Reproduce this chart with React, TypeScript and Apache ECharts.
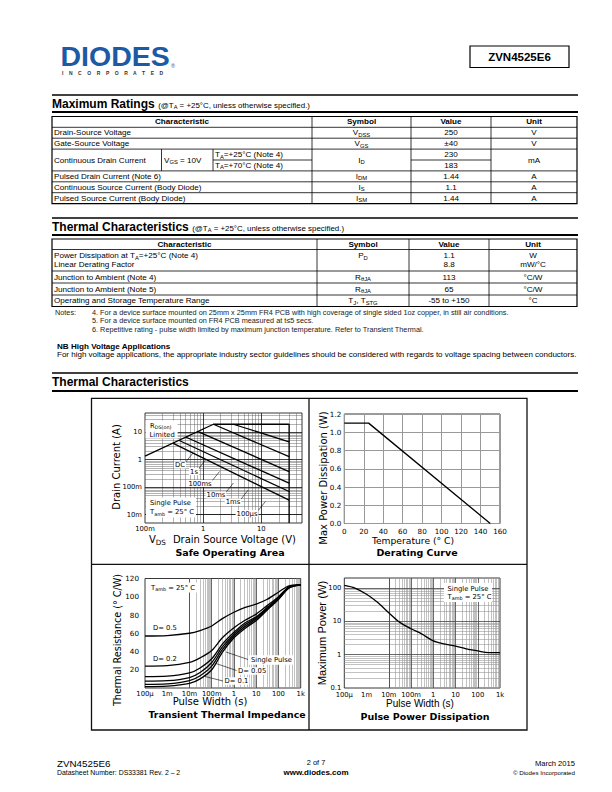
import React, { useEffect, useRef } from 'react';
import * as echarts from 'echarts';

const LS = '"Liberation Sans", Arial, Helvetica, sans-serif';
const DV = '"DejaVu Sans", Verdana, sans-serif';

// ---------------- page text content ----------------
const partNumber = 'ZVN4525E6';
const logoWord = 'DIODES';
const logoSub = 'I    N    C    O    R    P    O    R    A    T    E    D';
const condSubtitle = '(@T_{A} = +25°C, unless otherwise specified.)';
const tableHeader = ['Characteristic', 'Symbol', 'Value', 'Unit'];

const mrChars = ['Drain-Source Voltage', 'Gate-Source Voltage', 'Continuous Drain Current', 'Pulsed Drain Current (Note 6)', 'Continuous Source Current (Body Diode)', 'Pulsed Source Current (Body Diode)'];
const mrSymbols = ['V_{DSS}', 'V_{GS}', 'I_{D}', 'I_{DM}', 'I_{S}', 'I_{SM}'];
const mrValues = [['250'], ['±40'], ['230', '183'], ['1.44'], ['1.1'], ['1.44']];
const mrUnits = ['V', 'V', 'mA', 'A', 'A', 'A'];
const mrCondition = 'V_{GS} = 10V';
const mrTemps = ['T_{A}=+25°C (Note 4)', 'T_{A}=+70°C (Note 4)'];

const tcChars = [['Power Dissipation at T_{A}=+25°C (Note 4)', 'Linear Derating Factor'], ['Junction to Ambient (Note 4)'], ['Junction to Ambient (Note 5)'], ['Operating and Storage Temperature Range']];
const tcSymbols = ['P_{D}', 'R_{θJA}', 'R_{θJA}', 'T_{J}, T_{STG}'];
const tcValues = [['1.1', '8.8'], ['113'], ['65'], ['-55 to +150']];
const tcUnits = [['W', 'mW/°C'], ['°C/W'], ['°C/W'], ['°C']];

const notes = [
  '4. For a device surface mounted on 25mm x 25mm FR4 PCB with high coverage of single sided 1oz copper, in still air conditions.',
  '5. For a device surface mounted on FR4 PCB measured at t≤5 secs.',
  '6. Repetitive rating - pulse width limited by maximum junction temperature. Refer to Transient Thermal.',
];
const nbTitle = 'NB High Voltage Applications';
const nbText = 'For high voltage applications, the appropriate industry sector guidelines should be considered with regards to voltage spacing between conductors.';

// ---------------- chart data ----------------
// Safe operating area [VDS (V), ID (A)]
const soaEnvelope = [[0.1, 1.35], [1.5, 19.5], [30, 19.5], [30, 0.005]];
const soaDC = [[0.3, 4.0], [30, 0.034]];
const soa1s = [[0.38, 5.1], [30, 0.07]];
const soa100ms = [[0.5, 6.7], [30, 0.14]];
const soa10ms = [[0.8, 10.7], [30, 0.37]];
const soa1ms = [[1.5, 19.5], [30, 1.3]];
const soa100us = [[3.3, 19.5], [30, 4.5]];
const soaLabels = ['DC', '1s', '100ms', '10ms', '1ms', '100µs'];

// Derating curve [T (°C), P (W)]
const derating = [[0, 1.1], [25, 1.1], [150, 0]];

// Transient thermal impedance [t (s), Rth (°C/W)]
const tPulse = [1e-4, 1e-3, 1e-2, 3e-2, 0.1, 0.3, 1, 3, 10, 30, 100, 300, 1000];
const zthD05 = [57, 57.5, 60, 63, 68, 76, 83, 88, 92, 97, 105, 112, 113];
const zthD02 = [24, 24.5, 28, 33, 41, 55, 66, 74, 81, 90, 100, 111, 113];
const zthD01 = [12.5, 13, 16.5, 22, 32, 48, 61, 71, 78, 88, 99, 110.5, 113];
const zthD005 = [7.5, 8, 11.5, 17, 28, 45, 59, 69, 77, 87, 98, 110, 113];
const zthD002 = [4, 4.5, 8, 13.5, 24, 42, 57, 67, 75.5, 86, 97.5, 110, 113];
const zthSingle = [1.5, 2, 5, 10, 20, 39, 55, 65, 74, 85, 97, 109.5, 113];

// Pulse power dissipation [t (s), P (W)]
const ppTime = [1e-4, 3e-4, 1e-3, 3e-3, 1e-2, 3e-2, 0.1, 0.3, 1, 3, 10, 30, 100, 300, 1000];
const ppPower = [120, 100, 65, 38, 18, 9.5, 6, 4.2, 2.6, 2.1, 1.8, 1.5, 1.3, 1.15, 1.15];

// tick label names
const soaXTicks: Record<number, string> = { [-1]: '100m', 0: '1', 1: '10' };
const soaYTicks: Record<number, string> = { [-2]: '10m', [-1]: '100m', 0: '1', 1: '10' };
const timeTicks: Record<number, string> = { [-4]: '100µ', [-3]: '1m', [-2]: '10m', [-1]: '100m', 0: '1', 1: '10', 2: '100', 3: '1k' };
const ppYTicks: Record<number, string> = { [-1]: '0.1', 0: '1', 1: '10', 2: '100' };

// ---------------- helpers ----------------
function toRich(s: string) {
  const re = /_\{([^}]*)\}/g;
  let out = '';
  let last = 0;
  let m: RegExpExecArray | null;
  while ((m = re.exec(s))) {
    if (m.index > last) out += `{n|${s.slice(last, m.index)}}`;
    out += `{s|${m[1]}}`;
    last = m.index + m[0].length;
  }
  if (last < s.length) out += `{n|${s.slice(last)}}`;
  return out;
}

function tx(x: number, y: number, s: string, size: number, o: any = {}) {
  const family = o.family || LS;
  const weight = o.bold ? 'bold' : 'normal';
  const fill = o.color || '#000';
  const align = o.align || 'left';
  const va = o.va || 'middle';
  const lh = o.lh ?? Math.round(size * 1.1 * 10) / 10;
  const style: any = { fill, align, verticalAlign: va, textAlign: align, textVerticalAlign: va, fontFamily: family, fontSize: size, fontWeight: weight, lineHeight: lh };
  if (s.includes('_{')) {
    style.text = toRich(s);
    style.rich = {
      n: { fontFamily: family, fontSize: size, fontWeight: weight, color: fill, fill, lineHeight: Math.round(size * 1.2) },
      s: { fontFamily: family, fontSize: size * 0.72, fontWeight: weight, color: fill, fill, lineHeight: 3, verticalAlign: 'bottom' },
    };
  } else style.text = s;
  if (o.bg) {
    style.backgroundColor = o.bg;
    style.padding = o.pad ?? [0, 1, 0, 1];
  }
  const el: any = { type: 'text', x, y, style, z: o.z ?? 100, silent: true };
  if (o.rot) el.rotation = o.rot;
  return el;
}

const ln = (x1: number, y1: number, x2: number, y2: number, w = 1, c = '#000', z = 90) => ({
  type: 'line', shape: { x1, y1, x2, y2 }, style: { stroke: c, lineWidth: w }, silent: true, z,
});
const rc = (x: number, y: number, w: number, h: number, o: any = {}) => ({
  type: 'rect', shape: { x, y, width: w, height: h }, style: { fill: o.fill ?? 'none', stroke: o.stroke ?? null, lineWidth: o.lw ?? 1 }, silent: true, z: o.z ?? 90,
});

function measure(text: string, font: string) {
  const c = document.createElement('canvas').getContext('2d');
  if (!c) return text.length * 6;
  c.font = font;
  return c.measureText(text).width;
}

function section(g: any[], yTop: number, yText: number, yBot: number, title: string, withSub = true) {
  g.push(ln(52, yTop, 578, yTop, 1.3));
  g.push(ln(52, yBot, 578, yBot, 2));
  g.push(tx(52, yText, title, 12, { bold: true }));
  if (withSub) {
    const w = measure(title, `bold 12px ${LS}`);
    g.push(tx(52 + w + 3.5, yText + 1.2, condSubtitle, 7.9));
  }
}

const decadeFmt = (map: Record<number, string>) => (v: number) => {
  const e = Math.log10(v);
  const r = Math.round(e);
  return Math.abs(e - r) < 1e-6 && map[r] !== undefined ? map[r] : '';
};

function minorLogValues(lo: number, hi: number) {
  const out: number[] = [];
  for (let d = Math.floor(Math.log10(lo)); d <= Math.ceil(Math.log10(hi)); d++) {
    for (let k = 2; k <= 9; k++) {
      const v = k * Math.pow(10, d);
      if (v > lo * 1.0001 && v < hi * 0.9999) out.push(+v.toPrecision(3));
    }
  }
  return out;
}
function majorLogValues(lo: number, hi: number) {
  const out: number[] = [];
  for (let d = Math.ceil(Math.log10(lo)); d <= Math.floor(Math.log10(hi)); d++) {
    const v = Math.pow(10, d);
    if (v > lo * 1.0001 && v < hi * 0.9999) out.push(+v.toPrecision(3));
  }
  return out;
}

function gridLines(xs: number[], ys: number[], color: string, width: number) {
  return [
    ...xs.map((v) => ({ xAxis: v, lineStyle: { color, width, type: 'solid' } })),
    ...ys.map((v) => ({ yAxis: v, lineStyle: { color, width, type: 'solid' } })),
  ];
}

function markGrid(data: any[]) {
  return {
    silent: true, symbol: ['none', 'none'], z: 1, animation: false,
    label: { show: false }, emphasis: { disabled: true }, data,
  };
}

const curve = (name: string, x: number, y: number, data: any[], extra: any = {}) => ({
  type: 'line', name, xAxisIndex: x, yAxisIndex: y, data, symbol: 'none', silent: true, z: 3,
  lineStyle: { color: '#000', width: 1.3 }, ...extra,
});

function buildOption() {
  const g: any[] = [];

  // ---------- header ----------
  g.push(tx(60.5, 55.6, logoWord, 28.5, { bold: true, color: '#1d5aa5', lh: 20 }));
  g.push(tx(171, 65.5, '®', 5.5, { color: '#1d5aa5', lh: 5 }));
  g.push(tx(62, 73.4, logoSub, 5, { bold: true, color: '#333', lh: 4.5 }));
  g.push(rc(470, 46, 99, 21.5, { stroke: '#000', lw: 1.2 }));
  g.push(tx(519.5, 57, partNumber, 11.5, { bold: true, align: 'center' }));

  // ---------- Maximum Ratings ----------
  section(g, 95, 104, 112, 'Maximum Ratings');
  const c1 = [52, 312, 411, 491, 577];
  const r1 = [116.5, 127.3, 138.2, 149.1, 160, 170.9, 181.8, 192.7, 203.6];
  const fs = 8.1;
  g.push(rc(c1[0], r1[0], c1[4] - c1[0], r1[8] - r1[0], { stroke: '#000', lw: 1.2 }));
  [1, 2, 3, 5, 6, 7].forEach((i) => g.push(ln(c1[0], r1[i], c1[4], r1[i], 0.8)));
  g.push(ln(213, r1[4], c1[1], r1[4], 0.8));
  g.push(ln(c1[2], r1[4], c1[3], r1[4], 0.8));
  [1, 2, 3].forEach((i) => g.push(ln(c1[i], r1[0], c1[i], r1[8], 0.8)));
  g.push(ln(161.5, r1[3], 161.5, r1[5], 0.8));
  g.push(ln(213, r1[3], 213, r1[5], 0.8));
  tableHeader.forEach((h, i) => g.push(tx((c1[i] + c1[i + 1]) / 2, (r1[0] + r1[1]) / 2, h, fs, { bold: true, align: 'center' })));
  const mrRowIdx = [[1], [2], [3, 4], [5], [6], [7]];
  mrChars.forEach((ch, k) => {
    const top = r1[mrRowIdx[k][0]];
    const bot = r1[mrRowIdx[k][mrRowIdx[k].length - 1] + 1];
    const cy = (top + bot) / 2;
    g.push(tx(54, cy, ch, fs));
    g.push(tx((c1[1] + c1[2]) / 2, cy, mrSymbols[k], fs, { align: 'center' }));
    g.push(tx((c1[3] + c1[4]) / 2, cy, mrUnits[k], fs, { align: 'center' }));
    mrValues[k].forEach((v, j) => {
      const rr = mrRowIdx[k][j];
      g.push(tx((c1[2] + c1[3]) / 2, (r1[rr] + r1[rr + 1]) / 2, v, fs, { align: 'center' }));
    });
  });
  g.push(tx(164, (r1[3] + r1[5]) / 2, mrCondition, fs));
  mrTemps.forEach((t, j) => g.push(tx(215, (r1[3 + j] + r1[4 + j]) / 2, t, fs)));

  // ---------- Thermal Characteristics table ----------
  section(g, 218, 227, 235, 'Thermal Characteristics');
  const c2 = [52, 317, 409, 489, 577];
  const r2 = [239, 249.5, 271, 283, 295, 306.5];
  g.push(rc(c2[0], r2[0], c2[4] - c2[0], r2[5] - r2[0], { stroke: '#000', lw: 1.2 }));
  [1, 2, 3, 4].forEach((i) => g.push(ln(c2[0], r2[i], c2[4], r2[i], 0.8)));
  [1, 2, 3].forEach((i) => g.push(ln(c2[i], r2[0], c2[i], r2[5], 0.8)));
  tableHeader.forEach((h, i) => g.push(tx((c2[i] + c2[i + 1]) / 2, (r2[0] + r2[1]) / 2, h, fs, { bold: true, align: 'center' })));
  tcChars.forEach((lines, k) => {
    const top = r2[k + 1];
    const bot = r2[k + 2];
    const cy = (top + bot) / 2;
    const n = lines.length;
    const ys = n === 1 ? [cy] : [cy - 4.5, cy + 4.5];
    const lh = n === 1 ? undefined : 8.5;
    lines.forEach((t, j) => g.push(tx(54, ys[j], t, fs, { lh })));
    g.push(tx((c2[1] + c2[2]) / 2, ys[0], tcSymbols[k], fs, { align: 'center', lh }));
    tcValues[k].forEach((v, j) => g.push(tx((c2[2] + c2[3]) / 2, ys[j], v, fs, { align: 'center', lh })));
    tcUnits[k].forEach((v, j) => g.push(tx((c2[3] + c2[4]) / 2, ys[j], v, fs, { align: 'center', lh })));
  });

  // notes
  g.push(tx(55, 312, 'Notes:', 7.3, { color: '#222', lh: 7.5 }));
  notes.forEach((t, i) => g.push(tx(92, 312 + i * 8.6, t, 7.3, { color: '#222', lh: 7.5 })));
  g.push(tx(57, 346, nbTitle, 8.1, { bold: true, lh: 8 }));
  g.push(tx(57, 354.5, nbText, 8.0, { lh: 8 }));

  // ---------- Thermal Characteristics charts ----------
  section(g, 373, 382, 391, 'Thermal Characteristics', false);

  // chart frame
  g.push(rc(91.5, 398.3, 435.5, 331.7, { stroke: '#111', lw: 1.3 }));
  g.push(ln(309, 398.3, 309, 730, 1.3, '#111'));
  g.push(ln(91.5, 564.3, 527, 564.3, 1.3, '#111'));

  const up = Math.PI / 2;
  // SOA texts
  g.push(tx(116, 467, 'Drain Current (A)', 10, { family: DV, align: 'center', rot: up }));
  g.push(tx(149, 539.5, 'V_{DS}', 10, { family: DV }));
  g.push(tx(296, 539, 'Drain Source Voltage (V)', 10, { family: DV, align: 'right', lh: 8 }));
  g.push(tx(230, 552, 'Safe Operating Area', 9.5, { family: DV, bold: true, align: 'center', lh: 9 }));
  g.push(rc(145.6, 420.5, 32, 18, { fill: '#fff', z: 95 }));
  g.push(tx(150, 425.5, 'R_{DS(on)}', 6.8, { family: DV }));
  g.push(tx(149.5, 434.5, 'Limited', 6.8, { family: DV, lh: 7 }));
  const soaLabPos = [[180, 465], [194, 471.5], [200, 483.5], [216, 495], [233, 502], [247, 513.5]];
  soaLabels.forEach((t, i) => {
    const [x, y] = soaLabPos[i];
    const w = measure(t, `6.8px ${DV}`);
    g.push(ln(x + w / 2, y - 2, x + w / 2 + 8, y - 12, 0.6, '#000', 96));
    g.push(tx(x, y, t, 6.8, { family: DV, align: 'center', bg: '#fff', z: 100, lh: 7 }));
  });
  g.push(rc(146, 497.5, 50, 20, { fill: '#fff', z: 95 }));
  g.push(tx(150, 503, 'Single Pulse', 6.8, { family: DV, lh: 7 }));
  g.push(tx(150, 512, 'T_{amb} = 25° C', 6.8, { family: DV }));

  // Derating texts
  g.push(tx(323, 478, 'Max Power Dissipation (W)', 10, { family: DV, align: 'center', rot: up }));
  g.push(tx(413, 540, 'Temperature (° C)', 9.2, { family: DV, align: 'center', lh: 8 }));
  g.push(tx(417, 552, 'Derating Curve', 9.5, { family: DV, bold: true, align: 'center' }));

  // Transient texts
  g.push(tx(117, 640, 'Thermal Resistance (° C/W)', 9.6, { family: DV, align: 'center', rot: up }));
  g.push(tx(210, 701.5, 'Pulse Width (s)', 10, { family: DV, align: 'center', lh: 8 }));
  g.push(tx(227, 714.5, 'Transient Thermal Impedance', 9.4, { family: DV, bold: true, align: 'center', lh: 9 }));
  g.push(tx(149, 587.5, 'T_{amb} = 25° C', 6.8, { family: DV, bg: '#fff', pad: [1, 2, 1, 2] }));
  g.push(tx(152, 628, 'D= 0.5', 6.8, { family: DV, bg: '#fff' }));
  g.push(tx(152, 659, 'D= 0.2', 6.8, { family: DV, bg: '#fff' }));
  g.push(ln(226, 652, 248, 659.5, 0.6, '#000', 96));
  g.push(tx(249, 660, 'Single Pulse', 6.8, { family: DV, bg: '#fff', pad: [1, 2, 1, 2] }));
  g.push(ln(216, 663.5, 236.5, 670.5, 0.6, '#000', 96));
  g.push(tx(237, 671, 'D= 0.05', 6.8, { family: DV, bg: '#fff' }));
  g.push(ln(205, 676.5, 223, 681, 0.6, '#000', 96));
  g.push(tx(223.5, 681, 'D= 0.1', 6.8, { family: DV, bg: '#fff' }));

  // Pulse power texts
  g.push(tx(322, 633, 'Maximum Power (W)', 11.2, { align: 'center', rot: up }));
  g.push(tx(420, 703, 'Pulse Width (s)', 10, { align: 'center', lh: 8 }));
  g.push(tx(425, 716.5, 'Pulse Power Dissipation', 9.5, { family: DV, bold: true, align: 'center', lh: 9 }));
  g.push(rc(444, 583, 48, 19, { fill: '#fff', z: 95 }));
  g.push(tx(447.5, 589, 'Single Pulse', 6.8, { family: DV, lh: 7 }));
  g.push(tx(447.5, 596.5, 'T_{amb} = 25° C', 6.8, { family: DV }));

  // footer
  g.push(tx(57, 763, partNumber, 9.8, { lh: 9 }));
  g.push(tx(57, 772.5, 'Datasheet Number: DS33381 Rev. 2 – 2', 6.9, { lh: 7 }));
  g.push(tx(316, 762.5, '2 of 7', 7.4, { align: 'center', lh: 8 }));
  g.push(tx(316, 772.5, 'www.diodes.com', 8, { bold: true, align: 'center', lh: 8 }));
  g.push(tx(575, 763, 'March 2015', 7.6, { align: 'right', lh: 8 }));
  g.push(tx(575, 772.5, '© Diodes Incorporated', 6.2, { align: 'right', lh: 7 }));

  // ---------- axes ----------
  const lbl = (extra: any = {}) => ({ color: '#000', fontFamily: DV, fontSize: 6.8, lineHeight: 7, ...extra });
  const noAxis = { axisLine: { show: false }, axisTick: { show: false }, splitLine: { show: false } };

  const grids = [
    { left: 145, top: 413, width: 157, height: 110 },
    { left: 344.3, top: 414, width: 155.7, height: 109.5 },
    { left: 145, top: 578.5, width: 155.7, height: 109.5 },
    { left: 344.3, top: 578, width: 155.7, height: 110 },
  ].map((gr) => ({ ...gr, show: true, borderColor: '#222', borderWidth: 0.9, backgroundColor: 'transparent' }));

  const xAxis = [
    { type: 'log', gridIndex: 0, min: 0.1, max: 50, ...noAxis, axisLabel: lbl({ formatter: decadeFmt(soaXTicks), margin: 3, lineHeight: 6 }) },
    { type: 'value', gridIndex: 1, min: 0, max: 160, interval: 20, axisLine: { show: false }, axisTick: { show: false },
      splitLine: { show: true, lineStyle: { color: '#999', width: 1 } }, axisLabel: lbl({ fontSize: 7.2, margin: 4 }) },
    { type: 'log', gridIndex: 2, min: 1e-4, max: 1e3, ...noAxis, axisLabel: lbl({ formatter: decadeFmt(timeTicks), margin: 2 }) },
    { type: 'log', gridIndex: 3, min: 1e-4, max: 1e3, ...noAxis, axisLabel: lbl({ formatter: decadeFmt(timeTicks), margin: 3.5, lineHeight: 6 }) },
  ];
  const yAxis = [
    { type: 'log', gridIndex: 0, min: 0.005, max: 50, ...noAxis, axisLabel: lbl({ formatter: decadeFmt(soaYTicks), margin: 3 }) },
    { type: 'value', gridIndex: 1, min: 0, max: 1.2, interval: 0.2, axisLine: { show: false }, axisTick: { show: false },
      splitLine: { show: true, lineStyle: { color: '#999', width: 1 } }, axisLabel: lbl({ fontSize: 7.2, margin: 3, formatter: (v: number) => v.toFixed(1) }) },
    { type: 'value', gridIndex: 2, min: 0, max: 120, interval: 20, ...noAxis, axisLabel: lbl({ fontSize: 7.2, margin: 6, formatter: (v: number) => (v === 0 ? '' : String(v)) }) },
    { type: 'log', gridIndex: 3, min: 0.1, max: 200, ...noAxis, axisLabel: lbl({ fontSize: 6.8, margin: 3, lineHeight: 5.5, formatter: decadeFmt(ppYTicks) }) },
  ];

  const soaGrid = [
    ...gridLines(minorLogValues(0.1, 50), minorLogValues(0.005, 50), '#666', 0.5),
    ...gridLines(majorLogValues(0.1, 50), majorLogValues(0.005, 50), '#111', 0.8),
  ];
  const ttGrid = [
    ...gridLines(minorLogValues(1e-4, 1e3), [], '#999', 0.6),
    ...gridLines(majorLogValues(1e-4, 1e3), [], '#444', 0.8),
  ];
  const ppGrid = [
    ...gridLines(minorLogValues(1e-4, 1e3), minorLogValues(0.1, 200), '#999', 0.6),
    ...gridLines(majorLogValues(1e-4, 1e3), majorLogValues(0.1, 200), '#444', 0.8),
  ];

  const zip = (xs: number[], ys: number[]) => xs.map((x, i) => [x, ys[i]]);

  const series = [
    curve('SOA limit', 0, 0, soaEnvelope, { markLine: markGrid(soaGrid) }),
    curve('DC', 0, 0, soaDC),
    curve('1s', 0, 0, soa1s),
    curve('100ms', 0, 0, soa100ms),
    curve('10ms', 0, 0, soa10ms),
    curve('1ms', 0, 0, soa1ms),
    curve('100µs', 0, 0, soa100us),
    curve('Derating', 1, 1, derating),
    curve('D=0.5', 2, 2, zip(tPulse, zthD05), { smooth: 0.3, markLine: markGrid(ttGrid) }),
    curve('D=0.2', 2, 2, zip(tPulse, zthD02), { smooth: 0.3 }),
    curve('D=0.1', 2, 2, zip(tPulse, zthD01), { smooth: 0.3 }),
    curve('D=0.05', 2, 2, zip(tPulse, zthD005), { smooth: 0.3 }),
    curve('D=0.02', 2, 2, zip(tPulse, zthD002), { smooth: 0.3 }),
    curve('Single Pulse', 2, 2, zip(tPulse, zthSingle), { smooth: 0.3 }),
    curve('Max Power', 3, 3, zip(ppTime, ppPower), { smooth: 0.3, markLine: markGrid(ppGrid) }),
  ];

  return {
    animation: false,
    backgroundColor: '#fff',
    textStyle: { fontFamily: LS },
    grid: grids,
    xAxis,
    yAxis,
    series,
    graphic: { elements: g },
  };
}

export default function App() {
  const ref = useRef<HTMLDivElement>(null);
  useEffect(() => {
    if (!ref.current) return;
    const chart = echarts.init(ref.current, null, { renderer: 'svg', width: 612, height: 792 });
    chart.setOption(buildOption() as any);
    return () => chart.dispose();
  }, []);
  return <div ref={ref} style={{ position: 'absolute', left: 0, top: 0, width: 612, height: 792, background: '#fff' }} />;
}
